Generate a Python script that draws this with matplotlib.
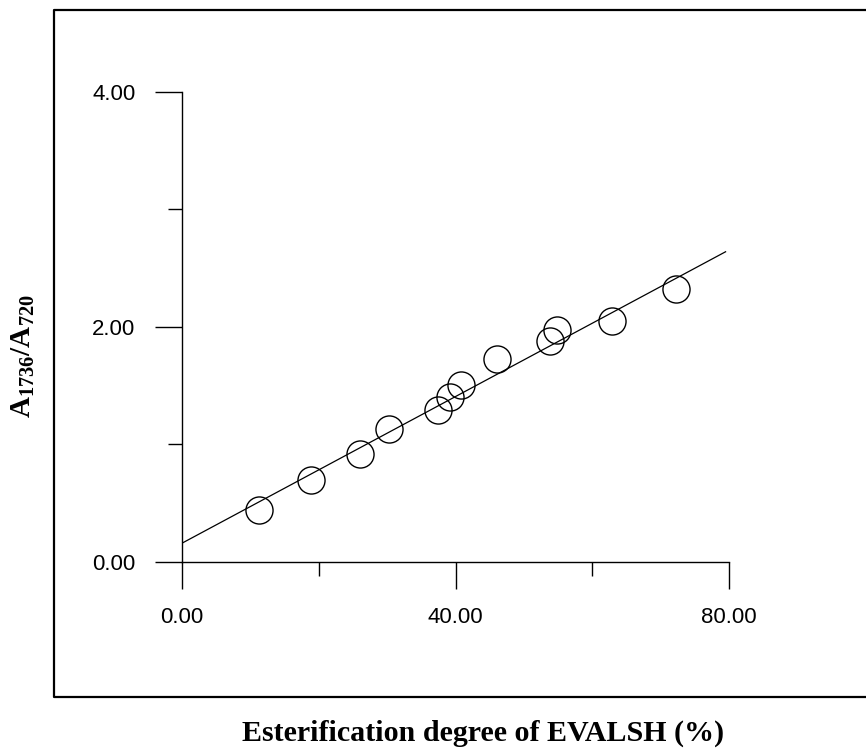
import matplotlib
matplotlib.use('Agg')
import matplotlib.pyplot as plt
from matplotlib.lines import Line2D
from matplotlib.ticker import MultipleLocator

# data
esterification = [11.3, 18.8, 26.1, 30.2, 37.4, 39.2, 40.8, 46.1, 53.8, 54.8, 62.9, 72.2]
absorbance_ratio = [0.44, 0.70, 0.92, 1.13, 1.29, 1.40, 1.51, 1.73, 1.88, 1.97, 2.05, 2.32]

# linear fit line as drawn in the figure (end points)
fit_x = [0.0, 79.5]
fit_y = [0.16, 2.64]

x_ticks = [0, 40, 80]
y_ticks = [0, 2, 4]

plt.rcParams['mathtext.fontset'] = 'custom'
plt.rcParams['mathtext.bf'] = 'Liberation Serif:bold'
plt.rcParams['mathtext.rm'] = 'Liberation Serif:bold'

fig = plt.figure(figsize=(8.66, 7.5), dpi=100)
ax = fig.add_axes([0.2102, 0.2507, 0.6316, 0.6267])

ax.plot(fit_x, fit_y, color='k', lw=0.9)
ax.plot(esterification, absorbance_ratio, 'o', ms=19.5, mfc='none', mec='k', mew=1.0)

ax.set_xlim(0, 80)
ax.set_ylim(0, 4)
ax.set_xticks(x_ticks)
ax.set_yticks(y_ticks)
ax.set_xticklabels(['%.2f' % v for v in x_ticks])
ax.set_yticklabels(['%.2f' % v for v in y_ticks])
ax.xaxis.set_minor_locator(MultipleLocator(20))
ax.yaxis.set_minor_locator(MultipleLocator(1))

for side in ['top', 'right']:
    ax.spines[side].set_visible(False)
for side in ['left', 'bottom']:
    ax.spines[side].set_linewidth(1.0)

ax.tick_params(which='major', direction='out', length=19.5, width=1.0,
               labelsize=16, colors='k')
ax.tick_params(axis='y', which='major', pad=14)
ax.tick_params(axis='x', which='major', pad=13)
ax.tick_params(which='minor', direction='out', length=10, width=1.0)
for lab in ax.get_xticklabels() + ax.get_yticklabels():
    lab.set_fontfamily('Liberation Sans')

# outer frame (left, top and bottom edges, open on the right)
frame_l, frame_t, frame_b = 54 / 866, 1 - 10 / 750, 1 - 697 / 750
fig.add_artist(Line2D([1.0, frame_l, frame_l, 1.0], [frame_t, frame_t, frame_b, frame_b],
                      transform=fig.transFigure, color='k', lw=1.6))

# axis labels
fig.text(483 / 866, 1 - 733 / 750, 'Esterification degree of EVALSH (%)',
         ha='center', va='center', fontsize=21.6, fontweight='bold',
         family='Liberation Serif')
fig.text(23 / 866, 1 - 356 / 750, r'A$_{\mathbf{1736}}$/A$_{\mathbf{720}}$',
         ha='center', va='center', rotation=90, fontsize=21, fontweight='bold',
         family='Liberation Serif')

fig.savefig('out.png', dpi=100)
